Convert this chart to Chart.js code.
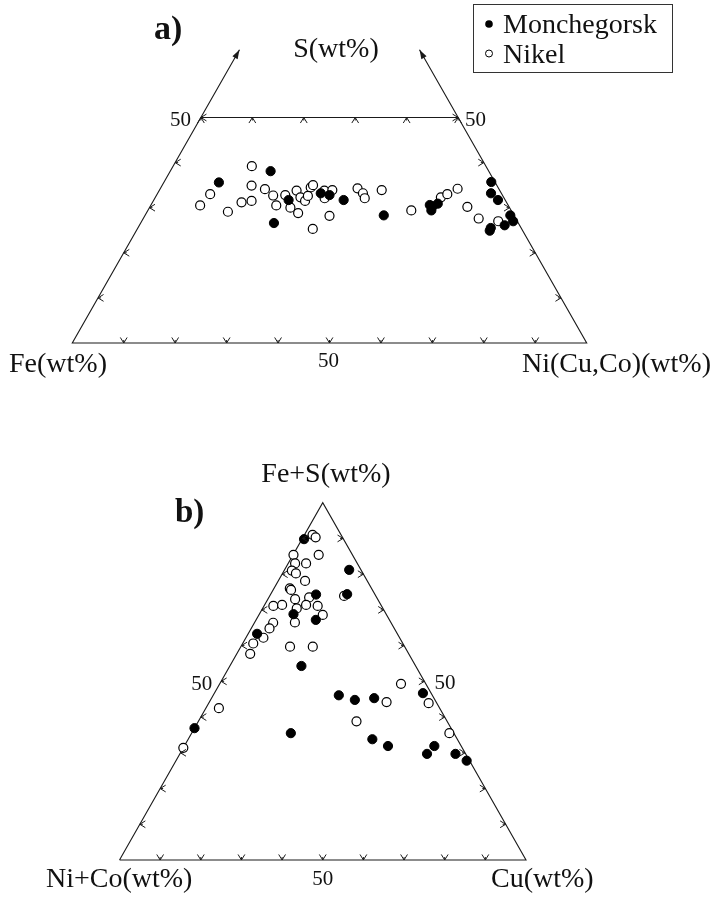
<!DOCTYPE html>
<html>
<head>
<meta charset="utf-8">
<script src="https://cdn.jsdelivr.net/npm/chart.js@4.4.1/dist/chart.umd.min.js"></script>
<style>
  html, body { margin: 0; padding: 0; background: #fff; }
  #wrap { position: relative; width: 717px; height: 899px; }
  #chartA { position: absolute; left: 0; top: 0; }
  #chartB { position: absolute; left: 0; top: 420px; }
</style>
</head>
<body>
<div id="wrap">
  <canvas id="chartA" width="717" height="420"></canvas>
  <canvas id="chartB" width="717" height="479"></canvas>
</div>
<script>
// panel a) S(wt%) and Ni(Cu,Co)(wt%), Fe is what is left
const monchegorskS  = [35.6, 38.1, 31.7, 26.6, 33.2, 32.8, 31.7, 28.3, 30.6, 30.3, 30.9, 29.4, 35.7, 33.2, 31.7, 28.3, 27.0, 26.1, 25.5, 24.9];
const monchegorskNi = [10.7, 19.5, 26.2, 25.9, 31.7, 33.6, 36.9, 46.4, 54.2, 54.9, 55.6, 55.1, 63.6, 64.8, 66.9, 71.0, 72.2, 71.0, 68.6, 68.7];
const nikelS  = [30.5, 33.0, 29.1, 31.2, 39.2, 34.9, 31.5, 34.1, 32.7, 30.5, 32.8, 30.0, 33.8, 28.8, 32.3, 31.5, 34.5, 35.0,
                 25.3, 33.8, 32.1, 28.2, 33.9, 34.3, 33.2, 32.1, 33.9, 29.4, 32.3, 33.0, 34.2, 30.2, 27.6, 27.0, 32.6];
const nikelNi = [9.6, 10.3, 15.7, 17.3, 15.3, 17.4, 19.1, 20.4, 22.7, 24.4, 25.0, 27.4, 26.7, 29.5, 28.2, 29.5, 29.1, 29.3,
                 34.1, 32.1, 33.0, 35.9, 33.6, 38.3, 39.9, 40.8, 43.2, 51.2, 55.5, 56.4, 57.8, 61.7, 65.2, 69.3, 29.5];

// panel b) Fe+S(wt%) and Cu(wt%), Ni+Co is what is left
const monchegorskFeS = [89.8, 81.2, 74.3, 74.4, 68.8, 67.2, 63.3, 54.3, 46.1, 44.8, 45.3, 46.7, 35.5, 33.8, 31.9, 29.7, 31.9, 29.7, 27.8, 36.9];
const monchegorskCu  = [0.5, 15.9, 11.2, 18.8, 8.4, 14.7, 2.2, 17.6, 30.9, 35.5, 40.0, 51.3, 24.4, 45.3, 50.1, 60.8, 61.5, 67.8, 71.5, 0.0];
const nikelFeS = [91.0, 90.3, 85.4, 85.4, 83.0, 83.0, 81.0, 80.2, 78.1, 76.0, 75.6, 73.0, 73.5, 71.1, 71.4, 70.4, 71.4, 71.1,
                  68.6, 66.5, 66.4, 64.8, 62.2, 60.6, 57.7, 59.7, 59.7, 73.9, 49.3, 44.2, 43.9, 38.8, 35.5, 42.5, 31.4];
const nikelCu  = [2.0, 3.1, 0.1, 6.3, 1.7, 4.4, 1.9, 3.3, 6.6, 3.9, 4.4, 6.7, 9.9, 2.3, 4.3, 8.4, 10.2, 13.2,
                  15.7, 9.9, 4.6, 4.5, 4.3, 2.6, 3.3, 12.1, 17.7, 18.3, 44.6, 43.6, 54.1, 38.9, 63.4, 3.2, 0.0];

const seriesNames = ['Monchegorsk', 'Nikel'];
const tickSteps = [10, 20, 30, 40, 50, 60, 70, 80, 90];
const edgeTicksA = [10, 20, 30, 40, 50];
const midTicksA = [0, 10, 20, 30, 40, 50];
const sAxisEnd = 65;   // the S arrows of panel a stop here
const cutLevel = 50;   // panel a is cut at S = 50

const FONT = '"Liberation Serif", "Times New Roman", serif';

// top / right components (wt%) -> plane coordinates of the triangle
function toXY(top, right) {
  return { x: (right + top / 2) / 100, y: top / 100 };
}

function chevron(ctx, x, y, ang) {
  const len = 6.5, spread = 0.55;
  ctx.beginPath();
  ctx.moveTo(x - len * Math.cos(ang - spread), y - len * Math.sin(ang - spread));
  ctx.lineTo(x, y);
  ctx.lineTo(x - len * Math.cos(ang + spread), y - len * Math.sin(ang + spread));
  ctx.moveTo(x, y);
  ctx.lineTo(x - 3 * Math.cos(ang), y - 3 * Math.sin(ang));
  ctx.stroke();
}

function arrowHead(ctx, x, y, ang) {
  const len = 9, half = 3;
  ctx.beginPath();
  ctx.moveTo(x, y);
  ctx.lineTo(x - len * Math.cos(ang) - half * Math.sin(ang), y - len * Math.sin(ang) + half * Math.cos(ang));
  ctx.lineTo(x - len * Math.cos(ang) + half * Math.sin(ang), y - len * Math.sin(ang) - half * Math.cos(ang));
  ctx.closePath();
  ctx.fill();
}

function text(ctx, str, x, y, size, align, bold) {
  ctx.font = (bold ? 'bold ' : '') + size + 'px ' + FONT;
  ctx.textAlign = align;
  ctx.textBaseline = 'alphabetic';
  ctx.fillText(str, x, y);
}

function pointSets(topA, rightA, topB, rightB) {
  return [
    {
      label: seriesNames[0],
      data: topA.map((v, i) => toXY(v, rightA[i])),
      backgroundColor: '#000', borderColor: '#000',
      pointRadius: 4.6, pointBorderWidth: 1, clip: false
    },
    {
      label: seriesNames[1],
      data: topB.map((v, i) => toXY(v, rightB[i])),
      backgroundColor: '#fff', borderColor: '#000',
      pointRadius: 4.5, pointBorderWidth: 1.2, clip: false
    }
  ];
}

function frameSet(points) {
  return {
    label: 'frame', data: points, showLine: true, pointRadius: 0,
    borderColor: '#1a1a1a', borderWidth: 1.1, clip: false
  };
}

const decorA = {
  id: 'decorA',
  afterDatasetsDraw(chart) {
    const ctx = chart.ctx, xs = chart.scales.x, ys = chart.scales.y;
    const P = (p) => [xs.getPixelForValue(p.x), ys.getPixelForValue(p.y)];
    ctx.save();
    ctx.strokeStyle = '#1a1a1a';
    ctx.fillStyle = '#1a1a1a';
    ctx.lineWidth = 1;

    tickSteps.forEach(v => { const [x, y] = P(toXY(0, v)); chevron(ctx, x, y, Math.PI / 2); });
    edgeTicksA.forEach(v => {
      const [x1, y1] = P(toXY(v, 0)); chevron(ctx, x1, y1, Math.PI);
      const [x2, y2] = P(toXY(v, 100 - v)); chevron(ctx, x2, y2, 0);
    });
    midTicksA.forEach(v => { const [x, y] = P(toXY(cutLevel, v)); chevron(ctx, x, y, -Math.PI / 2); });

    // arrows at the ends of the S edges
    const [lx0, ly0] = P(toXY(0, 0)), [lx1, ly1] = P(toXY(sAxisEnd, 0));
    arrowHead(ctx, lx1, ly1, Math.atan2(ly1 - ly0, lx1 - lx0));
    const [rx0, ry0] = P(toXY(0, 100)), [rx1, ry1] = P(toXY(sAxisEnd, 100 - sAxisEnd));
    arrowHead(ctx, rx1, ry1, Math.atan2(ry1 - ry0, rx1 - rx0));

    ctx.fillStyle = '#111';
    const [mlx, mly] = P(toXY(cutLevel, 0)), [mrx] = P(toXY(cutLevel, 100 - cutLevel));
    text(ctx, '50', mlx - 10, mly + 8, 21, 'right');
    text(ctx, '50', mrx + 7, mly + 8, 21, 'left');
    text(ctx, '50', xs.getPixelForValue(0.5) - 1, 367, 21, 'center');
    text(ctx, 'Fe(wt%)', 9, 372, 28, 'left');
    text(ctx, 'Ni(Cu,Co)(wt%)', 522, 372, 28, 'left');
    text(ctx, 'S(wt%)', 336, 57, 28, 'center');
    text(ctx, 'a)', 154, 39, 34, 'left', true);

    // legend box
    ctx.strokeStyle = '#333';
    ctx.strokeRect(473.5, 4.5, 199, 68);
    ctx.beginPath(); ctx.arc(489, 24, 3.8, 0, Math.PI * 2); ctx.fillStyle = '#000'; ctx.fill();
    ctx.beginPath(); ctx.arc(489, 53.5, 3.5, 0, Math.PI * 2); ctx.strokeStyle = '#000'; ctx.stroke();
    ctx.fillStyle = '#111';
    text(ctx, chart.data.datasets[0].label, 503, 33, 28, 'left');
    text(ctx, chart.data.datasets[1].label, 503, 63, 28, 'left');
    ctx.restore();
  }
};

const decorB = {
  id: 'decorB',
  afterDatasetsDraw(chart) {
    const ctx = chart.ctx, xs = chart.scales.x, ys = chart.scales.y;
    const P = (p) => [xs.getPixelForValue(p.x), ys.getPixelForValue(p.y)];
    ctx.save();
    ctx.strokeStyle = '#1a1a1a';
    ctx.lineWidth = 1;
    tickSteps.forEach(v => {
      const [bx, by] = P(toXY(0, v)); chevron(ctx, bx, by, Math.PI / 2);
      const [lx, ly] = P(toXY(v, 0)); chevron(ctx, lx, ly, Math.PI);
      const [rx, ry] = P(toXY(v, 100 - v)); chevron(ctx, rx, ry, 0);
    });
    ctx.fillStyle = '#111';
    const [l5x, l5y] = P(toXY(50, 0)), [r5x] = P(toXY(50, 50));
    text(ctx, '50', l5x - 9, l5y + 9, 21, 'right');
    text(ctx, '50', r5x + 10, l5y + 8, 21, 'left');
    text(ctx, '50', xs.getPixelForValue(0.5), 465, 21, 'center');
    text(ctx, 'Ni+Co(wt%)', 46, 467, 28, 'left');
    text(ctx, 'Cu(wt%)', 491, 467, 28, 'left');
    text(ctx, 'Fe+S(wt%)', 326, 62, 28, 'center');
    text(ctx, 'b)', 175, 102, 33, 'left', true);
    ctx.restore();
  }
};

function baseOptions(ymax, padding) {
  return {
    responsive: false,
    animation: false,
    events: [],
    layout: { autoPadding: false, padding: padding },
    scales: {
      x: { type: 'linear', min: 0, max: 1, display: false },
      y: { type: 'linear', min: 0, max: ymax, display: false }
    },
    plugins: { legend: { display: false }, tooltip: { enabled: false } }
  };
}

new Chart(document.getElementById('chartA'), {
  type: 'scatter',
  data: {
    datasets: [
      ...pointSets(monchegorskS, monchegorskNi, nikelS, nikelNi),
      frameSet([toXY(sAxisEnd, 0), toXY(0, 0), toXY(0, 100), toXY(sAxisEnd, 100 - sAxisEnd)]),
      frameSet([toXY(cutLevel, 0), toXY(cutLevel, 100 - cutLevel)])
    ]
  },
  options: baseOptions(0.7, { left: 72.3, right: 130.3, top: 27.3, bottom: 77 }),
  plugins: [decorA]
});

new Chart(document.getElementById('chartB'), {
  type: 'scatter',
  data: {
    datasets: [
      ...pointSets(monchegorskFeS, monchegorskCu, nikelFeS, nikelCu),
      frameSet([toXY(0, 0), toXY(0, 100), toXY(100, 0), toXY(0, 0)])
    ]
  },
  options: baseOptions(1, { left: 119.5, right: 191, top: 82.7, bottom: 39 }),
  plugins: [decorB]
});
</script>
</body>
</html>
